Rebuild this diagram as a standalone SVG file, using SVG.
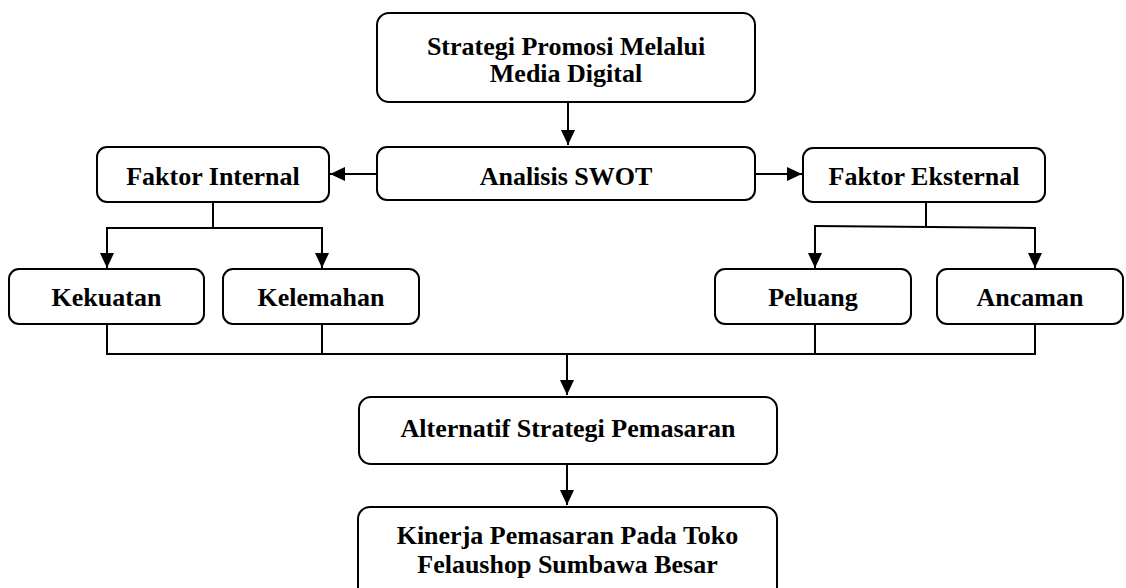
<svg xmlns="http://www.w3.org/2000/svg" width="1126" height="588" viewBox="0 0 1126 588">
<style>
.box{fill:#fff;stroke:#000;stroke-width:2}
.t{font-family:"Liberation Serif","Times New Roman",serif;font-weight:bold;font-size:26px;text-anchor:middle;fill:#000}
.c{fill:none;stroke:#000;stroke-width:2}
</style>
<defs>
<marker id="ah" viewBox="0 0 15 14" refX="15" refY="7" markerWidth="15" markerHeight="14" markerUnits="userSpaceOnUse" orient="auto">
<path d="M0,0 L15,7 L0,14 Z" fill="#000"/>
</marker>
</defs>
<rect width="1126" height="588" fill="#fff"/>
<g id="connectors">
<line class="c" x1="568" y1="102" x2="568" y2="145" marker-end="url(#ah)"/>
<line class="c" x1="377" y1="174" x2="330" y2="174" marker-end="url(#ah)"/>
<line class="c" x1="755" y1="174" x2="802" y2="174" marker-end="url(#ah)"/>
<line class="c" x1="213" y1="202" x2="213" y2="228"/>
<line class="c" x1="106" y1="228" x2="323" y2="228"/>
<line class="c" x1="107" y1="228" x2="107" y2="268" marker-end="url(#ah)"/>
<line class="c" x1="322" y1="228" x2="322" y2="268" marker-end="url(#ah)"/>
<line class="c" x1="926" y1="202" x2="926" y2="227"/>
<line class="c" x1="814" y1="226" x2="1036" y2="228"/>
<line class="c" x1="815" y1="226" x2="815" y2="268" marker-end="url(#ah)"/>
<line class="c" x1="1035" y1="228" x2="1035" y2="268" marker-end="url(#ah)"/>
<line class="c" x1="107" y1="324" x2="107" y2="354"/>
<line class="c" x1="322" y1="324" x2="322" y2="354"/>
<line class="c" x1="815" y1="324" x2="815" y2="354"/>
<line class="c" x1="1035" y1="324" x2="1035" y2="354"/>
<line class="c" x1="106" y1="354" x2="1036" y2="354"/>
<line class="c" x1="567" y1="354" x2="567" y2="395" marker-end="url(#ah)"/>
<line class="c" x1="567" y1="464" x2="567" y2="505" marker-end="url(#ah)"/>
</g>
<g id="n-strategi">
<rect class="box" x="377" y="13" width="378" height="89" rx="12"/>
<text class="t" x="566" y="55">Strategi Promosi Melalui</text>
<text class="t" x="566" y="82">Media Digital</text>
</g>
<g id="n-swot">
<rect class="box" x="377" y="147" width="378" height="53" rx="10"/>
<text class="t" x="566" y="185">Analisis SWOT</text>
</g>
<g id="n-internal">
<rect class="box" x="97" y="147" width="232" height="55" rx="10"/>
<text class="t" x="213" y="185">Faktor Internal</text>
</g>
<g id="n-eksternal">
<rect class="box" x="803" y="148" width="242" height="54" rx="10"/>
<text class="t" x="924" y="185">Faktor Eksternal</text>
</g>
<g id="n-kekuatan">
<rect class="box" x="9" y="269" width="195" height="55" rx="10"/>
<text class="t" x="106.5" y="306">Kekuatan</text>
</g>
<g id="n-kelemahan">
<rect class="box" x="223" y="269" width="196" height="55" rx="10"/>
<text class="t" x="321" y="306">Kelemahan</text>
</g>
<g id="n-peluang">
<rect class="box" x="715" y="269" width="196" height="55" rx="10"/>
<text class="t" x="813" y="306">Peluang</text>
</g>
<g id="n-ancaman">
<rect class="box" x="937" y="269" width="186" height="55" rx="10"/>
<text class="t" x="1030" y="306">Ancaman</text>
</g>
<g id="n-alternatif">
<rect class="box" x="359" y="397" width="418" height="67" rx="12"/>
<text class="t" x="568" y="437">Alternatif Strategi Pemasaran</text>
</g>
<g id="n-kinerja">
<rect class="box" x="358" y="507" width="419" height="100" rx="12"/>
<text class="t" x="567.5" y="544">Kinerja Pemasaran Pada Toko</text>
<text class="t" x="567.5" y="573">Felaushop Sumbawa Besar</text>
</g>
</svg>
